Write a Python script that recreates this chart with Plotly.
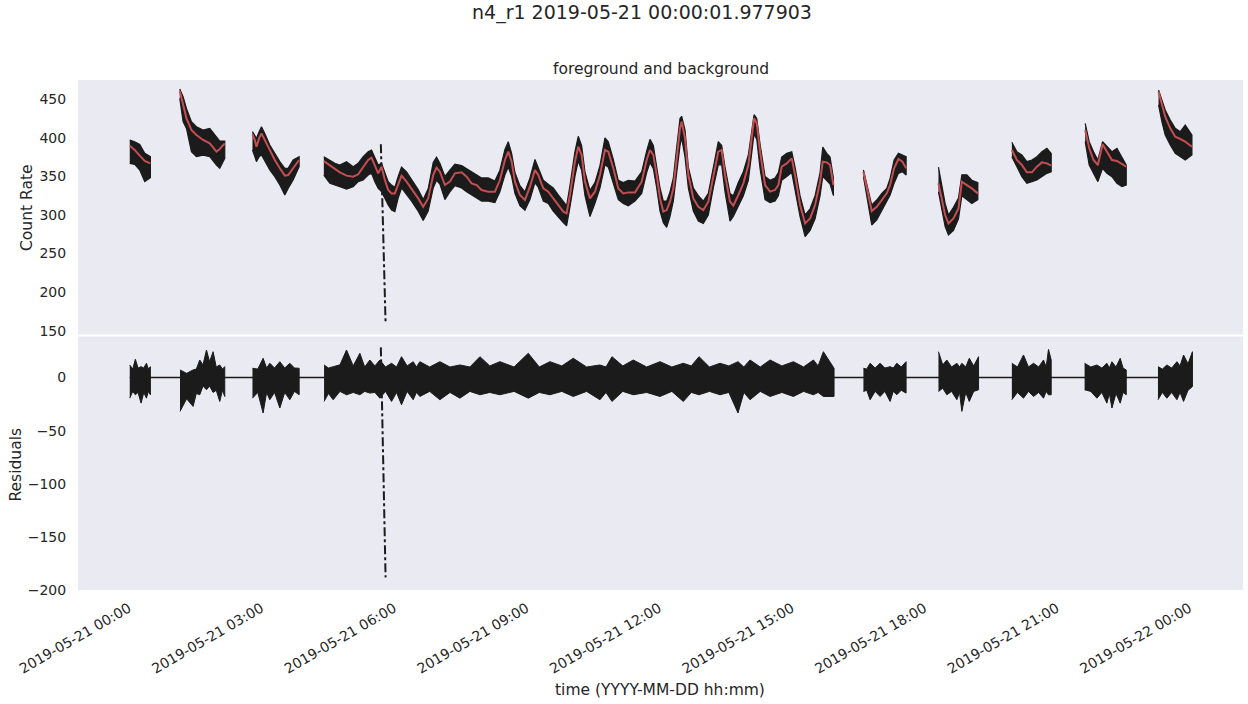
import pandas as pd
import plotly.graph_objects as go

BASE = pd.Timestamp("2019-05-21 00:00:00")

# ---------------- foreground / background panel (hours since 2019-05-21 00:00) -------------
# None separates the observation segments
FG_T = [0.023, 0.136, 0.249, 0.362, 0.49, None,
        1.155, 1.23, 1.306, 1.419, 1.532, 1.683, 1.834, 1.985, 2.06, 2.173, None,
        2.80, 2.853, 2.89, 2.95, 3.004, 3.079, 3.192, 3.305, 3.419, 3.532, 3.607, 3.72, 3.856, None,
        4.415, 4.551, 4.664, 4.777, 4.928, 5.079, 5.192, 5.305, 5.418, 5.494,
        5.569, 5.645, 5.72, 5.796, 5.871, 5.947, 6.022, 6.097, 6.173, 6.286,
        6.4, 6.55, 6.663, 6.776, 6.89, 6.965, 7.041, 7.154, 7.267, 7.381,
        7.532, 7.645, 7.758, 7.872, 7.985, 8.135, 8.286, 8.399, 8.513, 8.588,
        8.664, 8.739, 8.852, 8.965, 9.079, 9.192, 9.267, 9.38, 9.493, 9.606,
        9.72, 9.833, 9.908, 9.984, 10.097, 10.172, 10.248, 10.324, 10.437, 10.55,
        10.663, 10.776, 10.852, 10.965, 11.078, 11.191, 11.304, 11.456, 11.607, 11.72,
        11.795, 11.871, 11.947, 12.022, 12.097, 12.173, 12.248, 12.323, 12.4, 12.474,
        12.512, 12.588, 12.663, 12.776, 12.889, 13.002, 13.115, 13.228, 13.341, 13.418,
        13.493, 13.606, 13.681, 13.794, 13.908, 14.021, 14.097, 14.15, 14.211, 14.286,
        14.399, 14.512, 14.625, 14.7, 14.776, 14.89, 15.003, 15.078, 15.191, 15.305,
        15.418, 15.531, 15.644, 15.705, 15.795, 15.87, 15.946, None,
        16.625, 16.738, 16.813, 16.927, 17.04, 17.153, 17.229, 17.319, 17.417, 17.508, 17.591, None,
        18.323, 18.474, 18.549, 18.662, 18.776, 18.852, 18.965, 19.078, 19.214, None,
        19.984, 20.097, 20.21, 20.323, 20.437, 20.55, 20.663, 20.776, 20.874, None,
        21.643, 21.734, 21.832, 21.93, 22.036, 22.134, 22.248, 22.361, 22.475, 22.572, None,
        23.303, 23.378, 23.454, 23.568, 23.681, 23.794, 23.907, 24.058]

MODEL = [389.8, 384.2, 376.9, 370.0, 366.9, None,
         460.7, 444.7, 425.3, 410.2, 403.7, 397.2, 392.9, 382.1, 385.5, 392.9, None,
         404.5, 397.2, 388.5, 399.3, 405.8, 397.2, 382.1, 371.3, 360.5, 351.0, 351.8, 361.3, 371.3, None,
         369.9, 364.8, 359.6, 355.3, 351.0, 349.6, 352.7, 361.3, 371.3, 374.3,
         364.8, 354.0, 362.6, 345.3, 332.4, 328.0, 328.0, 338.8, 351.0, 343.2,
         334.5, 321.5, 310.7, 321.5, 351.8, 361.3, 356.1, 338.8, 343.2, 354.0,
         355.3, 349.6, 341.0, 338.8, 332.4, 330.2, 330.2, 345.3, 371.3, 382.1,
         369.1, 343.2, 325.9, 319.4, 336.7, 358.3, 351.8, 334.5, 330.2, 321.5,
         312.9, 304.3, 302.1, 325.9, 369.1, 388.5, 377.7, 343.2, 321.5, 330.2,
         351.8, 384.2, 382.1, 360.5, 334.5, 328.0, 329.3, 329.3, 343.2, 371.3,
         384.2, 377.7, 351.8, 321.5, 304.3, 306.4, 317.3, 334.5, 373.4, 412.3,
         421.0, 399.3, 351.8, 321.5, 310.7, 306.4, 317.3, 351.8, 382.1, 384.2,
         351.8, 317.3, 312.0, 325.9, 341.0, 364.8, 401.5, 425.3, 418.8, 382.1,
         338.8, 330.2, 332.4, 338.8, 362.6, 366.9, 373.4, 351.8, 312.9, 289.1,
         295.6, 312.9, 343.2, 369.1, 368.2, 364.8, 338.8, None,
         356.1, 325.9, 305.1, 310.7, 319.4, 328.0, 338.8, 360.5, 372.6, 369.1, 360.5, None,
         341.0, 299.9, 289.1, 295.6, 308.6, 343.2, 338.8, 334.5, 328.0, None,
         384.2, 371.3, 364.8, 355.3, 355.3, 362.6, 368.2, 366.9, 363.9, None,
         410.2, 386.4, 371.3, 364.8, 391.6, 382.1, 371.3, 370.0, 365.6, 362.6, None,
         459.9, 442.6, 427.4, 412.3, 401.5, 398.5, 395.0, 388.5]

DATA_HI = [397.2, 395.0, 391.6, 379.9, 375.6, None,
           463.3, 453.4, 438.2, 421.0, 414.5, 410.2, 412.3, 401.5, 395.9, 395.9, None,
           408.0, 403.7, 399.3, 408.0, 414.5, 405.8, 390.7, 379.9, 369.1, 360.5, 360.5, 371.3, 375.6, None,
           375.6, 371.3, 367.0, 364.8, 369.1, 362.6, 367.0, 375.6, 382.1, 384.2,
           375.6, 364.8, 367.0, 354.0, 343.2, 338.8, 336.0, 350, 362, 356,
           346, 333, 320, 334, 368, 375, 367, 350, 358, 366,
           364, 360, 355, 352, 348, 348, 344, 358, 385, 395,
           380, 355, 338, 330, 348, 372, 362, 345, 340, 335,
           326, 318, 312, 338, 382, 402, 390, 356, 332, 342,
           364, 400, 395, 372, 345, 342, 345, 344, 356, 383,
           398, 390, 365, 335, 318, 318, 330, 348, 388, 425,
           428, 410, 362, 335, 325, 318, 328, 362, 395, 390,
           362, 328, 325, 342, 356, 378, 412, 430, 425, 392,
           350, 345, 348, 355, 375, 380, 382, 362, 325, 300,
           308, 325, 355, 388, 380, 375, 348, None,
           358.3, 330.2, 312.9, 319.4, 328.0, 334.5, 347.5, 371.3, 379.9, 377.7, 375.6, None,
           362.0, 315.0, 300.0, 310.0, 322.0, 352.0, 352.0, 345.0, 342.0, None,
           394.2, 382.1, 377.7, 369.1, 371.3, 375.6, 382.1, 386.4, 379.9, None,
           418.8, 395.0, 382.1, 371.3, 395.0, 388.5, 382.1, 386.4, 375.6, 364.8, None,
           462.0, 449.0, 436.1, 423.1, 412.3, 408.0, 416.6, 403.7]

DATA_LO = [366.9, 365.6, 358.3, 343.2, 348.3, None,
           451.2, 421.0, 412.3, 382.1, 375.6, 377.7, 375.6, 364.8, 360.5, 373.4, None,
           384.2, 375.6, 369.1, 375.6, 377.7, 369.1, 358.3, 349.6, 338.8, 325.9, 334.5, 345.3, 362.6, None,
           351.8, 341.0, 338.8, 336.7, 333.7, 336.7, 343.2, 345.3, 351.8, 354.0,
           343.2, 334.5, 330.2, 321.6, 312.9, 306.4, 304.3, 322, 335, 326,
           318, 305, 293, 305, 335, 345, 340, 320, 330, 338,
           335, 330, 325, 322, 318, 318, 316, 330, 352, 362,
           350, 328, 312, 306, 320, 342, 336, 318, 315, 305,
           298, 290, 286, 310, 350, 370, 358, 325, 298, 315,
           335, 365, 362, 340, 320, 315, 312, 318, 328, 355,
           368, 360, 335, 305, 290, 284, 298, 318, 355, 390,
           400, 375, 335, 305, 292, 289, 300, 335, 365, 365,
           330, 292, 298, 312, 325, 345, 382, 405, 398, 360,
           320, 316, 318, 325, 345, 350, 355, 335, 298, 272,
           280, 295, 325, 350, 345, 340, 325, None,
           349.6, 312.9, 287.0, 293.5, 304.3, 317.3, 325.9, 341.0, 354.0, 356.1, 351.8, None,
           330.0, 285.0, 274.0, 280.0, 295.0, 325.0, 320.0, 315.0, 320.0, None,
           375.6, 362.6, 349.6, 341.0, 343.2, 345.3, 349.6, 354.0, 356.1, None,
           395.0, 364.8, 354.0, 343.2, 360.5, 354.0, 349.6, 341.0, 336.7, 338.8, None,
           442.6, 421.0, 403.7, 390.7, 379.9, 375.6, 371.3, 377.7]

# sharp drop of the count rate just before 06:00
DIP_T = [5.705, 5.812]
DIP_RATE = [391.6, 159.5]
DIP_RES = [28.5, -188.4]

# ---------------- residual panel: upper / lower edge of the residual scatter -------------
RES_T = [0.023, 0.09, 0.15, 0.21, 0.28, 0.34, 0.40, 0.445, 0.49, None,
         1.16, 1.31, 1.456, 1.53, 1.607, 1.68, 1.759, 1.83, 1.909, 1.98, 2.06, 2.12, 2.173, None,
         2.80, 2.92, 3.041, 3.12, 3.192, 3.3, 3.419, 3.53, 3.645, 3.75, 3.856, None,
         4.42, 4.52, 4.626, 4.78, 4.928, 5.08, 5.23, 5.34, 5.456, 5.57,
         5.683, 5.81, 5.947, 6.06, 6.173, 6.3, 6.437, 6.51, 6.588, 6.81,
         7.041, 7.27, 7.494, 7.72, 7.947, 8.17, 8.399, 8.72, 9.041, 9.29,
         9.531, 9.8, 10.059, 10.36, 10.663, 10.8, 10.935, 11.18, 11.417, 11.72,
         12.022, 12.29, 12.549, 12.73, 12.905, 13.14, 13.38, 13.58, 13.787, 13.92,
         14.059, 14.29, 14.512, 14.78, 15.04, 15.27, 15.493, 15.6, 15.719, 15.96, None,
         16.625, 16.7, 16.776, 16.89, 17.002, 17.11, 17.229, 17.3, 17.38, 17.48, 17.59, None,
         18.323, 18.42, 18.512, 18.62, 18.739, 18.8, 18.852, 18.94, 19.02, 19.12, 19.23, None,
         19.984, 20.11, 20.247, 20.36, 20.474, 20.59, 20.7, 20.76, 20.813, 20.874, None,
         21.63, 21.77, 21.908, 22.02, 22.134, 22.19, 22.248, 22.34, 22.436, 22.5, 22.572, None,
         23.29, 23.39, 23.492, 23.6, 23.719, 23.79, 23.869, 23.97, 24.07]
RES_HI = [11.9, 8, 17.3, 9, 10.3, 9, 13.5, 8, 10.3, None,
          7.2, 4, 7.2, 8, 16.6, 12, 26.0, 15, 24.4, 10, 11.9, 8, 10.3, None,
          8.8, 8, 18.2, 9, 13.5, 9, 15.0, 9, 13.5, 9, 8.8, None,
          11.9, 9, 10.3, 12, 26.0, 11, 22.9, 10, 16.6, 11,
          16.6, 10, 13.5, 10, 19.7, 11, 15.0, 10, 15.0, 10,
          15.0, 10, 11.9, 10, 19.7, 11, 15.0, 10, 22.9, 10,
          15.0, 11, 18.2, 10, 11.9, 10, 19.7, 11, 16.6, 10,
          15.0, 10, 13.5, 11, 19.7, 10, 13.5, 11, 15.0, 10,
          16.6, 10, 16.6, 11, 15.0, 10, 16.6, 11, 24.4, 8.8, None,
          8.8, 8, 13.5, 9, 13.5, 9, 10.3, 9, 13.5, 10, 15.0, None,
          24.4, 12, 16.6, 10, 13.5, 10, 13.5, 10, 18.2, 11, 19.7, None,
          13.5, 10, 21.3, 10, 13.5, 10, 16.6, 10, 26.6, 16.6, None,
          13.5, 10, 11.9, 9, 13.5, 9, 15.0, 10, 18.2, 9, 7.2, None,
          10.3, 8, 11.9, 9, 15.0, 11, 21.3, 13, 24.4]
RES_LO = [-19.4, -13, -16.2, -14, -24.1, -14, -19.4, -13, -16.2, None,
          -31.9, -20, -27.2, -15, -16.2, -8, -11.5, -8, -14.0, -12, -22.5, -12, -17.8, None,
          -19.4, -14, -33.4, -14, -20.9, -14, -28.7, -14, -20.9, -13, -16.2, None,
          -22.5, -15, -20.9, -13, -16.2, -14, -16.2, -13, -14.6, -14,
          -19.4, -13, -22.5, -14, -25.6, -13, -20.9, -14, -17.8, -13,
          -20.9, -14, -19.4, -13, -16.2, -14, -16.2, -13, -19.4, -14,
          -16.2, -13, -17.8, -13, -20.9, -14, -22.5, -13, -16.2, -14,
          -17.8, -13, -22.5, -14, -16.2, -13, -16.2, -14, -33.4, -14,
          -20.9, -13, -17.8, -14, -17.8, -13, -16.2, -14, -17.8, -17.8, None,
          -13.1, -12, -20.9, -13, -17.8, -13, -22.5, -13, -16.2, -12, -14.6, None,
          -13.1, -10, -16.2, -13, -20.9, -14, -31.9, -14, -22.5, -13, -11.5, None,
          -20.9, -14, -19.4, -13, -17.8, -14, -19.4, -13, -16.2, -16.2, None,
          -11.5, -13, -19.4, -14, -24.1, -15, -28.7, -15, -24.1, -14, -16.2, None,
          -20.9, -14, -19.4, -14, -20.9, -14, -22.5, -12, -8.5]
ZERO_T = [0.023, 24.07]
ZERO_V = [0.0, 0.0]

X_RANGE_H = [-1.148, 25.214]
Y1_RANGE = [144.4, 475.0]
Y2_RANGE = [-200.3, 39.2]
Y1_TICKS = [150, 200, 250, 300, 350, 400, 450]
Y2_TICKS = [-200, -150, -100, -50, 0]

assert len(FG_T) == len(MODEL) == len(DATA_HI) == len(DATA_LO)
assert len(RES_T) == len(RES_HI) == len(RES_LO)

BLACK = "#1b1b1b"
RED = "#c44e52"
TXT = "#262626"
FONT = "DejaVu Sans"


def tt(h):
    return None if h is None else BASE + pd.Timedelta(hours=h)


def split(ts, *cols):
    segs, cur = [], [[] for _ in range(len(cols) + 1)]
    for i, t in enumerate(ts):
        if t is None:
            segs.append(cur)
            cur = [[] for _ in range(len(cols) + 1)]
        else:
            cur[0].append(t)
            for k, c in enumerate(cols):
                cur[k + 1].append(c[i])
    segs.append(cur)
    return segs


fig = go.Figure()

# foreground data bands
for t, hi, lo in split(FG_T, DATA_HI, DATA_LO):
    fig.add_trace(go.Scatter(x=[tt(v) for v in t + t[::-1]], y=hi + lo[::-1],
                             fill="toself", fillcolor=BLACK, mode="lines",
                             line=dict(color=BLACK, width=1.2),
                             xaxis="x", yaxis="y", showlegend=False, hoverinfo="skip"))
fig.add_trace(go.Scatter(x=[tt(v) for v in DIP_T], y=DIP_RATE, mode="lines",
                         line=dict(color=BLACK, width=2, dash="dashdot"),
                         xaxis="x", yaxis="y", showlegend=False))
fig.add_trace(go.Scatter(x=[tt(v) for v in FG_T], y=MODEL, mode="lines",
                         line=dict(color=RED, width=2), connectgaps=False,
                         xaxis="x", yaxis="y", showlegend=False))

# residuals
fig.add_trace(go.Scatter(x=[tt(v) for v in ZERO_T], y=ZERO_V, mode="lines",
                         line=dict(color=BLACK, width=1.5),
                         xaxis="x2", yaxis="y2", showlegend=False))
for t, hi, lo in split(RES_T, RES_HI, RES_LO):
    fig.add_trace(go.Scatter(x=[tt(v) for v in t + t[::-1]], y=hi + lo[::-1],
                             fill="toself", fillcolor=BLACK, mode="lines",
                             line=dict(color=BLACK, width=1),
                             xaxis="x2", yaxis="y2", showlegend=False, hoverinfo="skip"))
fig.add_trace(go.Scatter(x=[tt(v) for v in DIP_T], y=DIP_RES, mode="lines",
                         line=dict(color=BLACK, width=2, dash="dashdot"),
                         xaxis="x2", yaxis="y2", showlegend=False))

xr = [tt(X_RANGE_H[0]), tt(X_RANGE_H[1])]
tickvals = [BASE + pd.Timedelta(hours=3 * k) for k in range(9)]
ticktext = [v.strftime("%Y-%m-%d %H:%M") for v in tickvals]

common_y = dict(showgrid=False, zeroline=False, showline=False, ticks="outside",
                ticklen=8, tickcolor="rgba(0,0,0,0)",
                tickfont=dict(family=FONT, size=14, color=TXT))

fig.update_layout(
    width=1248, height=704,
    margin=dict(l=78, r=5, t=80, b=114),
    paper_bgcolor="white", plot_bgcolor="#eaeaf2",
    font=dict(family=FONT, color=TXT),
    showlegend=False,
    xaxis=dict(domain=[0, 1], range=xr, anchor="y", showticklabels=False,
               showgrid=False, zeroline=False, showline=False, matches="x2"),
    yaxis=dict(domain=[0.5, 1], range=Y1_RANGE, tickvals=Y1_TICKS, anchor="x", **common_y),
    xaxis2=dict(domain=[0, 1], range=xr, anchor="y2", tickvals=tickvals, ticktext=ticktext,
                tickangle=-30, showgrid=False, zeroline=False, showline=False,
                ticks="outside", ticklen=4, tickcolor="rgba(0,0,0,0)",
                tickfont=dict(family=FONT, size=14, color=TXT)),
    yaxis2=dict(domain=[0, 0.498], range=Y2_RANGE, tickvals=Y2_TICKS, anchor="x2", **common_y),
    title=dict(text="n4_r1 2019-05-21 00:00:01.977903", x=642 / 1248, xanchor="center",
               y=1 - 12 / 704, yanchor="middle", font=dict(family=FONT, size=19, color=TXT)),
    annotations=[
        dict(text="foreground and background", xref="paper", yref="paper", x=0.5,
             y=(590 - 69) / 510, xanchor="center", yanchor="middle", showarrow=False,
             font=dict(family=FONT, size=15.5, color=TXT)),
        dict(text="time (YYYY-MM-DD hh:mm)", xref="paper", yref="paper",
             x=(660 - 78) / 1165, y=(590 - 690) / 510, xanchor="center", yanchor="middle",
             showarrow=False, font=dict(family=FONT, size=15.5, color=TXT)),
        dict(text="Count Rate", xref="paper", yref="paper", x=(27 - 78) / 1165,
             y=(590 - 208) / 510, xanchor="center", yanchor="middle", textangle=-90,
             showarrow=False, font=dict(family=FONT, size=15.5, color=TXT)),
        dict(text="Residuals", xref="paper", yref="paper", x=(15.5 - 78) / 1165,
             y=(590 - 465) / 510, xanchor="center", yanchor="middle", textangle=-90,
             showarrow=False, font=dict(family=FONT, size=15.5, color=TXT)),
    ],
    shapes=[dict(type="line", xref="paper", yref="paper", x0=0, x1=1,
                 y0=(590 - 335.5) / 510, y1=(590 - 335.5) / 510,
                 line=dict(color="white", width=2), layer="above")],
)

fig.write_html("out.html", config={"displayModeBar": False},
               post_script="document.body.style.margin='0px';document.body.style.overflow='hidden';")
